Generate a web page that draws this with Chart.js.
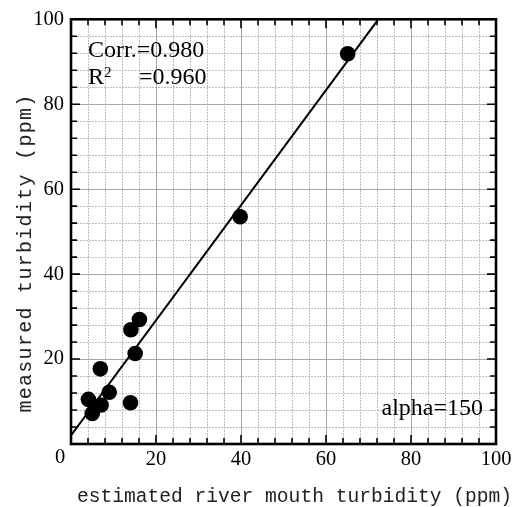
<!DOCTYPE html>
<html lang="en">
<head>
<meta charset="UTF-8">
<title>measured vs estimated turbidity</title>
<script src="https://cdn.jsdelivr.net/npm/chart.js"></script>
<style>
  html, body { margin: 0; padding: 0; background: #fff; }
</style>
</head>
<body>
<canvas id="turbChart" width="519" height="507"></canvas>
<script>
// data
const estimated = [65.1, 39.8, 16.1, 14.1, 15.1, 6.9, 9.0, 4.1, 7.1, 5.0, 14.0];
const measured  = [91.9, 53.5, 29.3, 26.9, 21.3, 17.7, 12.2, 10.5, 9.2, 7.2, 9.7];
const fitX = [0, 72.3];
const fitY = [2, 100];
const axisMin = 0, axisMax = 100, majorStep = 20, minorStep = 4;
const xTitle = 'estimated river mouth turbidity (ppm)';
const yTitle = 'measured turbidity (ppm)';
const corrLabel = 'Corr.=0.980';
const r2Value = '=0.960';
const alphaLabel = 'alpha=150';

const serif = '"Liberation Serif", "Times New Roman", serif';
const mono = '"Liberation Mono", "DejaVu Sans Mono", monospace';

const points = estimated.map((x, i) => ({ x: x, y: measured[i] }));
const fitLine = fitX.map((x, i) => ({ x: x, y: fitY[i] }));

// frame, inward ticks, titles and the text notes
const decor = {
    id: 'decor',
    afterDraw(chart) {
        const { ctx, chartArea: a, scales } = chart;
        ctx.save();
        ctx.strokeStyle = '#000';
        ctx.lineWidth = 1.6;
        ctx.beginPath();
        scales.x2.ticks.forEach(t => {
            const px = scales.x2.getPixelForValue(t.value);
            const len = t.value % majorStep === 0 ? 9 : 6;
            ctx.moveTo(px, a.bottom); ctx.lineTo(px, a.bottom - len);
            ctx.moveTo(px, a.top); ctx.lineTo(px, a.top + len);
        });
        scales.y2.ticks.forEach(t => {
            const py = scales.y2.getPixelForValue(t.value);
            const len = t.value % majorStep === 0 ? 9 : 6;
            ctx.moveTo(a.left, py); ctx.lineTo(a.left + len, py);
            ctx.moveTo(a.right, py); ctx.lineTo(a.right - len, py);
        });
        ctx.stroke();

        ctx.lineWidth = 2.6;
        ctx.strokeRect(a.left, a.top, a.right - a.left, a.bottom - a.top);

        ctx.fillStyle = '#000';
        // shared corner zero
        ctx.font = '20.5px ' + serif;
        ctx.textAlign = 'center';
        ctx.textBaseline = 'middle';
        ctx.fillText('0', a.left - 11, a.bottom + 14);

        // notes
        ctx.font = '24px ' + serif;
        ctx.textAlign = 'left';
        ctx.textBaseline = 'alphabetic';
        ctx.fillText(corrLabel, a.left + 17, a.top + 38);
        ctx.fillText('R', a.left + 17, a.top + 65);
        ctx.fillText(r2Value, a.left + 68, a.top + 65);
        ctx.font = '15px ' + serif;
        ctx.fillText('2', a.left + 33, a.top + 58);
        ctx.font = '24px ' + serif;
        ctx.textAlign = 'right';
        ctx.fillText(alphaLabel, a.right - 13, a.bottom - 29);

        // axis titles
        ctx.fillStyle = '#222';
        ctx.font = '19.6px ' + mono;
        ctx.textAlign = 'center';
        ctx.fillText(xTitle, 294.5, 502);
        ctx.translate(31, 253);
        ctx.rotate(-Math.PI / 2);
        ctx.font = '20px ' + mono;
        ctx.letterSpacing = '1.3px';
        ctx.fillText(yTitle, 0, 0);
        ctx.restore();
    }
};

const ctx = document.getElementById('turbChart').getContext('2d');
new Chart(ctx, {
    type: 'scatter',
    data: {
        datasets: [{
            label: 'measured',
            data: points,
            backgroundColor: '#000',
            borderWidth: 0,
            pointRadius: 7.8,
            pointHoverRadius: 7.8
        }, {
            type: 'line',
            label: 'fit',
            data: fitLine,
            borderColor: '#000',
            borderWidth: 2,
            pointRadius: 0,
            fill: false
        }]
    },
    options: {
        responsive: false,
        animation: false,
        events: [],
        layout: { padding: { top: 18, right: 23, left: 0, bottom: 0 } },
        plugins: { legend: { display: false }, tooltip: { enabled: false } },
        scales: {
            x2: {
                type: 'linear', position: 'top', min: axisMin, max: axisMax,
                ticks: { display: false, stepSize: minorStep, maxTicksLimit: 40 },
                grid: { color: '#bdbdbd', lineWidth: 1, drawTicks: false, z: -2 },
                border: { display: false, dash: [2, 1] },
                afterFit: s => { s.height = 0; }
            },
            y2: {
                type: 'linear', position: 'right', min: axisMin, max: axisMax,
                ticks: { display: false, stepSize: minorStep, maxTicksLimit: 40 },
                grid: { color: '#bdbdbd', lineWidth: 1, drawTicks: false, z: -2 },
                border: { display: false, dash: [2, 1] },
                afterFit: s => { s.width = 0; }
            },
            x: {
                type: 'linear', position: 'bottom', min: axisMin, max: axisMax,
                ticks: {
                    stepSize: majorStep, color: '#000', padding: 3, maxRotation: 0,
                    font: { family: serif, size: 20.5 },
                    callback: v => (v === axisMin ? '' : v)
                },
                grid: { color: '#a6a6a6', lineWidth: 1, drawTicks: false, z: -1 },
                border: { display: false },
                afterFit: s => { s.height = 63; }
            },
            y: {
                type: 'linear', position: 'left', min: axisMin, max: axisMax,
                ticks: {
                    stepSize: majorStep, color: '#000', padding: 7,
                    font: { family: serif, size: 20.5 },
                    callback: v => (v === axisMin ? '' : v)
                },
                grid: { color: '#a6a6a6', lineWidth: 1, drawTicks: false, z: -1 },
                border: { display: false },
                afterFit: s => { s.width = 71; }
            }
        }
    },
    plugins: [decor]
});
</script>
</body>
</html>
